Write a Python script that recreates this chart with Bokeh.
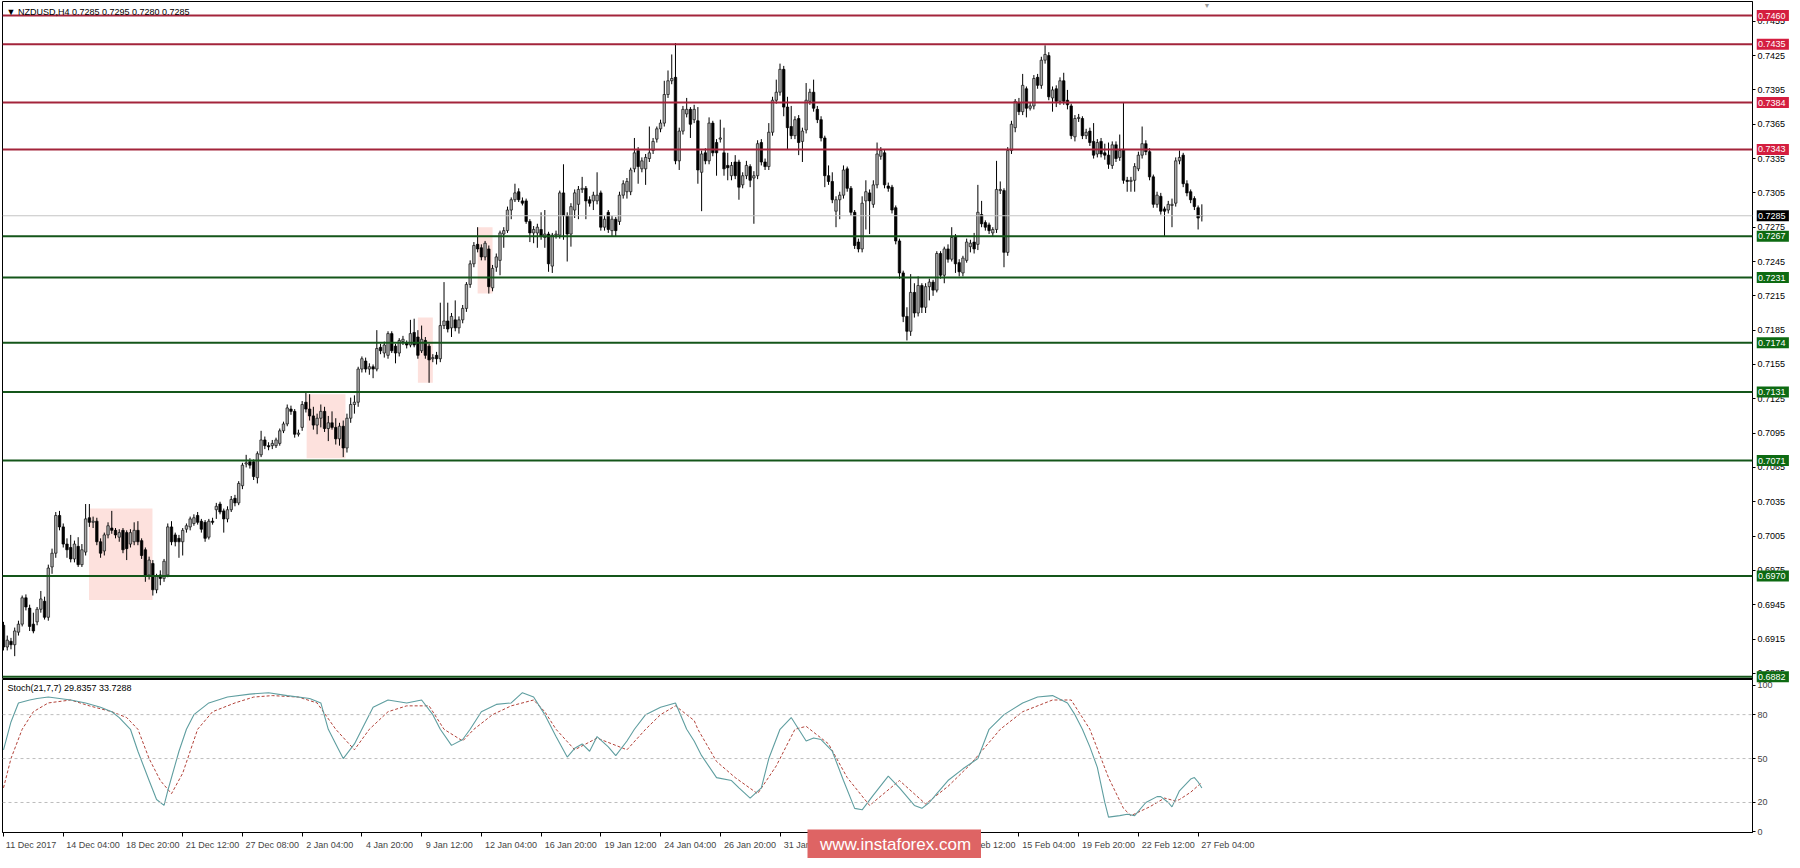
import numpy as np
from bokeh.plotting import figure
from bokeh.layouts import column
from bokeh.models import (Range1d, FixedTicker, Span, Label, CustomJSTickFormatter,
                          NumeralTickFormatter, ColumnDataSource)
from bokeh.core.properties import value
from bokeh.embed import file_html
from bokeh.resources import INLINE

# ---------------- data (prices in pips: value / 10000) ----------------
symbol = "NZDUSD,H4"
first_bar = 3

opens = [
    6927, 6908, 6913, 6910, 6921, 6928, 6951, 6942, 6928, 6930,
    6941, 6948, 6934, 6978, 6990, 7023, 7013, 6998, 6995, 6985,
    6996, 6980, 6991, 7021, 7017, 7018, 7000, 6992, 7006, 7012,
    7010, 7004, 7010, 7008, 6998, 7000, 7010, 7001, 6993, 6971,
    6981, 6958, 6971, 6968, 6971, 7013, 7006, 7003, 7000, 7011,
    7013, 7016, 7023, 7018, 7017, 7004, 7018, 7028, 7033, 7027,
    7020, 7028, 7038, 7034, 7049, 7068, 7070, 7070, 7056, 7076,
    7089, 7084, 7084, 7084, 7086, 7097, 7103, 7116, 7114, 7094,
    7100, 7122, 7116, 7110, 7102, 7108, 7114, 7099, 7104, 7100,
    7090, 7101, 7082, 7108, 7120, 7122, 7151, 7158, 7151, 7153,
    7151, 7170, 7165, 7163, 7182, 7171, 7165, 7175, 7174, 7172,
    7183, 7179, 7167, 7176, 7171, 7160, 7163, 7160, 7189, 7193,
    7187, 7194, 7187, 7194, 7204, 7225, 7243, 7260, 7257, 7249,
    7256, 7222, 7240, 7246, 7269, 7272, 7290, 7299, 7306, 7298,
    7298, 7280, 7270, 7270, 7273, 7266, 7269, 7241, 7268, 7268,
    7305, 7285, 7269, 7290, 7295, 7308, 7309, 7299, 7298, 7298,
    7305, 7275, 7288, 7272, 7282, 7280, 7303, 7306, 7306, 7326,
    7342, 7326, 7326, 7335, 7342, 7352, 7361, 7366, 7391, 7403,
    7406, 7333, 7359, 7374, 7378, 7369, 7368, 7323, 7340, 7333,
    7366, 7349, 7352, 7340, 7329, 7320, 7332, 7332, 7312, 7320,
    7328, 7318, 7320, 7349, 7332, 7328, 7358, 7386, 7393, 7413,
    7380, 7363, 7355, 7370, 7350, 7360, 7385, 7393, 7378, 7369,
    7353, 7320, 7315, 7289, 7299, 7303, 7326, 7309, 7288, 7262,
    7256, 7298, 7305, 7295, 7312, 7337, 7340, 7311, 7310, 7292,
    7263, 7235, 7197, 7184, 7218, 7200, 7224, 7205, 7223, 7227,
    7220, 7252, 7233, 7256, 7247, 7267, 7244, 7235, 7246, 7258,
    7262, 7260, 7286, 7279, 7277, 7270, 7273, 7307, 7307, 7253,
    7342, 7362, 7384, 7376, 7396, 7379, 7381, 7406, 7399, 7421,
    7425, 7388, 7396, 7385, 7403, 7386, 7381, 7354, 7370, 7370,
    7355, 7359, 7350, 7339, 7350, 7340, 7338, 7329, 7347, 7336,
    7343, 7316, 7315, 7316, 7326, 7338, 7348, 7341, 7319, 7295,
    7302, 7291, 7290, 7294, 7296, 7333, 7338, 7313, 7306, 7300,
    7292, 7285,
]
highs = [
    6930, 6918, 6916, 6925, 6931, 6953, 6954, 6945, 6938, 6943,
    6957, 6952, 6980, 6994, 7026, 7027, 7016, 7003, 7006, 7001,
    7004, 6998, 7033, 7033, 7022, 7021, 7003, 7008, 7017, 7027,
    7012, 7011, 7012, 7010, 7011, 7017, 7018, 7003, 6995, 6987,
    6984, 6972, 6975, 6985, 7016, 7018, 7008, 7006, 7012, 7016,
    7022, 7024, 7026, 7020, 7019, 7020, 7021, 7034, 7035, 7029,
    7031, 7040, 7041, 7053, 7069, 7076, 7073, 7072, 7079, 7097,
    7092, 7087, 7089, 7091, 7099, 7105, 7120, 7119, 7116, 7098,
    7123, 7131, 7129, 7118, 7112, 7120, 7118, 7110, 7114, 7108,
    7104, 7106, 7112, 7126, 7128, 7153, 7162, 7161, 7156, 7155,
    7185, 7173, 7175, 7184, 7184, 7173, 7178, 7180, 7176, 7194,
    7195, 7185, 7189, 7179, 7173, 7164, 7166, 7209, 7227, 7209,
    7200, 7211, 7197, 7207, 7227, 7246, 7262, 7275, 7260, 7263,
    7259, 7242, 7252, 7272, 7275, 7293, 7301, 7313, 7309, 7301,
    7300, 7282, 7276, 7278, 7288, 7290, 7271, 7270, 7272, 7307,
    7330, 7288, 7296, 7308, 7311, 7319, 7311, 7302, 7306, 7323,
    7307, 7285, 7290, 7285, 7284, 7306, 7316, 7318, 7327, 7353,
    7345, 7336, 7339, 7363, 7353, 7363, 7369, 7403, 7412, 7426,
    7436, 7362, 7381, 7388, 7380, 7382, 7380, 7342, 7344, 7371,
    7368, 7352, 7369, 7362, 7340, 7332, 7338, 7334, 7323, 7333,
    7330, 7324, 7351, 7352, 7335, 7366, 7389, 7404, 7418, 7416,
    7389, 7381, 7372, 7373, 7362, 7401, 7396, 7404, 7381, 7372,
    7355, 7329, 7323, 7302, 7306, 7329, 7328, 7311, 7290, 7265,
    7302, 7316, 7308, 7316, 7349, 7345, 7343, 7314, 7312, 7294,
    7265, 7237, 7205, 7234, 7226, 7232, 7226, 7226, 7230, 7229,
    7254, 7254, 7258, 7260, 7275, 7269, 7247, 7250, 7265, 7264,
    7270, 7312, 7298, 7281, 7279, 7275, 7333, 7315, 7309, 7345,
    7368, 7387, 7388, 7409, 7398, 7384, 7408, 7409, 7424, 7434,
    7428, 7398, 7399, 7406, 7410, 7395, 7383, 7373, 7374, 7372,
    7361, 7362, 7366, 7352, 7353, 7348, 7349, 7350, 7350, 7356,
    7384, 7319, 7319, 7331, 7341, 7363, 7351, 7344, 7321, 7306,
    7305, 7293, 7298, 7300, 7336, 7342, 7340, 7316, 7308, 7302,
    7294, 7295,
]
lows = [
    6905, 6905, 6906, 6900, 6918, 6926, 6940, 6922, 6920, 6927,
    6938, 6932, 6931, 6972, 6986, 7010, 6995, 6986, 6982, 6982,
    6978, 6978, 6988, 7013, 7012, 6997, 6986, 6988, 7003, 7007,
    7003, 7000, 6990, 6984, 6995, 6997, 6997, 6985, 6965, 6967,
    6953, 6955, 6962, 6965, 6969, 6997, 6996, 6986, 6988, 7008,
    7010, 7014, 7015, 7008, 7000, 7002, 7015, 7020, 7024, 7008,
    7017, 7026, 7031, 7032, 7046, 7065, 7064, 7054, 7051, 7074,
    7081, 7080, 7081, 7082, 7084, 7095, 7101, 7111, 7091, 7092,
    7097, 7113, 7106, 7098, 7094, 7100, 7096, 7088, 7098, 7085,
    7084, 7074, 7078, 7104, 7112, 7118, 7148, 7148, 7146, 7143,
    7149, 7164, 7161, 7160, 7165, 7156, 7162, 7172, 7169, 7170,
    7170, 7160, 7165, 7160, 7139, 7157, 7155, 7157, 7186, 7183,
    7179, 7184, 7182, 7191, 7201, 7222, 7240, 7253, 7246, 7246,
    7217, 7219, 7236, 7233, 7257, 7270, 7282, 7297, 7297, 7294,
    7278, 7262, 7261, 7257, 7264, 7257, 7236, 7235, 7265, 7265,
    7264, 7245, 7258, 7283, 7282, 7305, 7282, 7293, 7290, 7295,
    7272, 7272, 7270, 7267, 7267, 7277, 7300, 7300, 7303, 7323,
    7313, 7323, 7312, 7332, 7339, 7349, 7358, 7363, 7388, 7400,
    7330, 7325, 7356, 7371, 7353, 7366, 7313, 7289, 7330, 7330,
    7337, 7320, 7349, 7320, 7316, 7316, 7317, 7299, 7309, 7317,
    7310, 7278, 7317, 7329, 7325, 7325, 7355, 7383, 7390, 7372,
    7343, 7352, 7352, 7338, 7332, 7357, 7382, 7376, 7366, 7350,
    7310, 7312, 7296, 7275, 7282, 7300, 7306, 7285, 7256, 7253,
    7253, 7273, 7269, 7292, 7309, 7334, 7309, 7306, 7287, 7260,
    7230, 7192, 7176, 7180, 7196, 7197, 7200, 7200, 7211, 7215,
    7218, 7230, 7226, 7244, 7245, 7235, 7232, 7232, 7244, 7253,
    7252, 7255, 7275, 7272, 7269, 7267, 7270, 7304, 7240, 7250,
    7339, 7358, 7373, 7373, 7371, 7377, 7378, 7396, 7396, 7418,
    7386, 7376, 7380, 7382, 7382, 7378, 7352, 7350, 7367, 7352,
    7352, 7346, 7335, 7336, 7336, 7334, 7326, 7326, 7332, 7333,
    7313, 7306, 7306, 7306, 7324, 7335, 7338, 7316, 7292, 7292,
    7286, 7267, 7287, 7275, 7293, 7330, 7310, 7302, 7296, 7290,
    7273, 7280,
]
closes = [
    6908, 6914, 6910, 6922, 6928, 6951, 6943, 6926, 6922, 6941,
    6950, 6934, 6977, 6990, 7023, 7013, 6998, 6993, 6985, 6998,
    6980, 6993, 7020, 7017, 7018, 7000, 6990, 7006, 7014, 7010,
    7006, 7008, 6993, 6994, 7008, 7010, 7000, 6988, 6971, 6984,
    6958, 6970, 6968, 6983, 7013, 7000, 7000, 7000, 7010, 7014,
    7020, 7021, 7017, 7011, 7003, 7018, 7017, 7031, 7026, 7020,
    7028, 7037, 7034, 7051, 7067, 7069, 7067, 7057, 7077, 7089,
    7084, 7083, 7086, 7089, 7097, 7103, 7117, 7114, 7094, 7095,
    7120, 7116, 7110, 7102, 7108, 7114, 7099, 7104, 7100, 7090,
    7101, 7082, 7108, 7120, 7122, 7151, 7160, 7151, 7153, 7151,
    7169, 7167, 7172, 7182, 7167, 7165, 7176, 7177, 7172, 7182,
    7172, 7163, 7177, 7163, 7159, 7161, 7160, 7189, 7193, 7186,
    7197, 7187, 7194, 7204, 7225, 7243, 7259, 7256, 7249, 7261,
    7223, 7239, 7249, 7270, 7272, 7290, 7299, 7305, 7299, 7296,
    7280, 7270, 7273, 7275, 7267, 7269, 7243, 7268, 7269, 7305,
    7285, 7269, 7293, 7305, 7308, 7309, 7298, 7296, 7303, 7303,
    7275, 7282, 7273, 7282, 7272, 7303, 7313, 7315, 7325, 7340,
    7328, 7333, 7336, 7340, 7350, 7361, 7366, 7391, 7403, 7405,
    7333, 7359, 7378, 7378, 7365, 7378, 7325, 7339, 7333, 7366,
    7340, 7340, 7353, 7326, 7327, 7329, 7320, 7310, 7320, 7329,
    7316, 7320, 7348, 7332, 7328, 7358, 7386, 7393, 7413, 7380,
    7362, 7355, 7369, 7349, 7359, 7386, 7393, 7379, 7369, 7353,
    7320, 7315, 7299, 7299, 7303, 7325, 7309, 7288, 7259, 7256,
    7296, 7306, 7298, 7312, 7339, 7342, 7312, 7309, 7290, 7263,
    7235, 7197, 7184, 7218, 7200, 7224, 7205, 7223, 7227, 7220,
    7252, 7233, 7256, 7247, 7266, 7243, 7236, 7248, 7262, 7261,
    7256, 7288, 7278, 7275, 7272, 7273, 7308, 7308, 7253, 7342,
    7365, 7385, 7376, 7399, 7379, 7381, 7405, 7399, 7421, 7426,
    7389, 7395, 7385, 7403, 7385, 7382, 7355, 7370, 7371, 7355,
    7358, 7349, 7338, 7349, 7339, 7338, 7330, 7347, 7335, 7342,
    7316, 7315, 7316, 7328, 7338, 7348, 7341, 7319, 7295, 7303,
    7289, 7289, 7295, 7295, 7333, 7336, 7313, 7305, 7299, 7293,
    7283, 7285,
]

resistance_levels = [0.7460, 0.7435, 0.7384, 0.7343]
support_levels = [0.7267, 0.7231, 0.7174, 0.7131, 0.7071, 0.6970, 0.6882]

price_ticks = [0.7455, 0.7425, 0.7395, 0.7365, 0.7335, 0.7305, 0.7275, 0.7245,
               0.7215, 0.7185, 0.7155, 0.7125, 0.7095, 0.7065, 0.7035, 0.7005,
               0.6975, 0.6945, 0.6915, 0.6885]

time_tick_bars = [3, 19, 35, 51, 67, 83, 99, 115, 131, 147, 163, 179, 195, 211,
                  227, 243, 259, 275, 291, 307, 323]
time_tick_labels = ["11 Dec 2017", "14 Dec 04:00", "18 Dec 20:00", "21 Dec 12:00",
                    "27 Dec 08:00", "2 Jan 04:00", "4 Jan 20:00", "9 Jan 12:00",
                    "12 Jan 04:00", "16 Jan 20:00", "19 Jan 12:00", "24 Jan 04:00",
                    "26 Jan 20:00", "31 Jan 12:00", "5 Feb 04:00", "7 Feb 20:00",
                    "12 Feb 12:00", "15 Feb 04:00", "19 Feb 20:00", "22 Feb 12:00",
                    "27 Feb 04:00"]

# supply / demand zones (bar index edges, price edges)
zone_left = [25.9, 84.2, 114.0, 130.0]
zone_right = [42.9, 94.6, 118.0, 134.0]
zone_top = [0.7029, 0.7129, 0.7196, 0.7275]
zone_bottom = [0.6949, 0.7073, 0.7139, 0.7217]

# Stochastic(21,7,7)
stoch_k_bars = [3, 5, 7, 10, 12, 15, 18, 21, 25, 29, 32, 34, 37, 39, 42, 44, 46, 47, 50, 52,
                54, 58, 63, 69, 74, 79, 85, 88, 90, 92, 94, 97, 99, 102, 106, 111, 115, 118, 120, 123,
                126, 128, 131, 135, 139, 142, 145, 148, 151, 154, 156, 158, 160, 162, 165, 167, 170, 172, 175, 179,
                183, 186, 188, 190, 194, 198, 200, 203, 206, 208, 211, 214, 216, 218, 220, 222, 225, 228, 231, 233,
                236, 240, 243, 247, 249, 251, 253, 256, 260, 264, 267, 271, 276, 280, 284, 288, 290, 292, 294, 296,
                298, 299, 302, 304, 306, 309, 312, 313, 315, 316, 318, 321, 322, 323, 324]
stoch_k = [56, 75, 88, 90, 91, 92, 91, 90, 88, 85, 82, 78, 70, 55, 35, 22, 18, 28, 55, 70,
           80, 88, 92, 94, 95, 93, 91, 88, 70, 60, 50, 60, 70, 85, 90, 88, 90, 80, 70, 59,
           63, 70, 82, 87, 88, 95, 92, 80, 65, 51, 57, 60, 55, 65, 58, 52, 62, 70, 80, 85,
           88, 70, 62, 52, 37, 35, 30, 23, 30, 50, 70, 78, 70, 62, 64, 63, 55, 35, 16, 15,
           25, 38, 30, 18, 16, 20, 26, 35, 43, 50, 70, 80, 88, 92, 93, 88, 80, 70, 58, 44,
           20, 10, 11, 12, 11, 20, 24, 24, 20, 17, 28, 36, 37, 34, 29.8357]
stoch_d_bars = [3, 5, 8, 11, 15, 21, 26, 32, 36, 39, 42, 45, 48, 51, 55, 59, 65, 70, 75, 82,
                87, 92, 97, 101, 106, 111, 117, 121, 126, 129, 134, 139, 145, 148, 151, 156, 162, 170, 175, 179,
                183, 188, 189, 194, 199, 205, 210, 215, 218, 219, 224, 229, 235, 243, 250, 256, 262, 270, 276, 284,
                289, 294, 299, 303, 305, 310, 314, 317, 318, 321, 324]
stoch_d = [30, 50, 70, 82, 88, 90, 86, 82, 78, 70, 50, 35, 26, 40, 70, 82, 88, 92, 93, 92,
           88, 70, 56, 70, 82, 86, 86, 70, 62, 70, 80, 86, 90, 82, 70, 56, 64, 56, 70, 80,
           86, 76, 70, 48, 37, 26, 45, 70, 72, 70, 60, 37, 18, 35, 19, 31, 46, 70, 82, 90,
           90, 70, 37, 16, 11, 17, 23, 21, 22, 27, 33.7288]
stoch_levels = [20, 50, 80]
stoch_ticks = [0, 20, 50, 80, 100]

# ---------------- layout constants ----------------
FONT = "Liberation Sans"
FRAME_W = 1750
RIGHT_W = 32
TAG_W = 36
MAIN_H = 678
STOCH_H = 153
X_START, X_END = 2.73, 471.5
Y0, Y1 = 0.68796, 0.74723
RED = "#d41e40"
RED_LINE = "#a3243b"
GREEN = "#0d6a12"
GREEN_LINE = "#14561a"

n = len(closes)
bars = np.arange(first_bar, first_bar + n)
o = np.array(opens) / 10000.0
h = np.array(highs) / 10000.0
l = np.array(lows) / 10000.0
c = np.array(closes) / 10000.0
up = c >= o

x_range = Range1d(X_START, X_END)

p = figure(frame_width=FRAME_W, frame_height=MAIN_H, x_range=x_range,
           y_range=Range1d(Y0, Y1), output_backend="svg",
           toolbar_location=None, x_axis_location=None, y_axis_location="right",
           min_border_left=2, min_border_right=RIGHT_W, min_border_top=1, min_border_bottom=0)
p.grid.visible = False
p.outline_line_color = "black"
p.outline_line_width = 1

# zones
p.quad(left=zone_left, right=zone_right, top=zone_top, bottom=zone_bottom,
       fill_color="#fde1dd", line_color=None)

# levels
for lev in resistance_levels:
    p.add_layout(Span(location=lev, dimension="width", line_color=RED_LINE, line_width=2))
for lev in support_levels:
    p.add_layout(Span(location=lev, dimension="width", line_color=GREEN_LINE, line_width=2))
p.add_layout(Span(location=c[-1], dimension="width", line_color="#c4c4c4", line_width=1))

# candles
p.segment(x0=bars, y0=h, x1=bars, y1=l, line_color="black", line_width=1)
p.vbar(x=bars[up], width=0.66, top=c[up], bottom=o[up],
       fill_color="#a9a9a9", line_color="#111111", line_width=0.7)
p.vbar(x=bars[~up], width=0.66, top=o[~up], bottom=c[~up],
       fill_color="black", line_color="black", line_width=0.7)

# price axis
ya = p.yaxis[0]
ya.ticker = FixedTicker(ticks=price_ticks)
ya.formatter = NumeralTickFormatter(format="0.0000")
ya.major_label_text_font = FONT
ya.major_label_text_font_size = "9px"
ya.major_label_text_color = "black"
ya.major_tick_in = 0
ya.major_tick_out = 3
ya.minor_tick_out = 0
ya.minor_tick_in = 0
ya.major_label_standoff = 2
ya.axis_line_color = "black"

header = f"\u25BC {symbol}  {o[-1]:.4f} {h[-1]:.4f} {l[-1]:.4f} {c[-1]:.4f}"
p.add_layout(Label(x=4, y=MAIN_H - 10, x_units="screen", y_units="screen", text=header,
                   text_font=FONT, text_font_size="9px", text_color="black",
                   text_baseline="middle"))
p.add_layout(Label(x=float(bars[-1]) + 1.4, y=MAIN_H - 4, x_units="data", y_units="screen",
                   text="\u25BC", text_font_size="7px", text_color="#9a9a9a",
                   text_align="center", text_baseline="middle"))

# ---------------- stochastic panel ----------------
s = figure(frame_width=FRAME_W, frame_height=STOCH_H, x_range=x_range,
           y_range=Range1d(-0.5, 104), output_backend="svg", toolbar_location=None,
           x_axis_location="below", y_axis_location="right",
           min_border_left=2, min_border_right=RIGHT_W, min_border_top=0, min_border_bottom=0)
s.grid.visible = False
s.outline_line_color = "black"
for lev in stoch_levels:
    s.add_layout(Span(location=lev, dimension="width", line_color="#bdbdbd",
                      line_width=1, line_dash="3 3"))
s.line(stoch_d_bars, stoch_d, line_color="#b2433a", line_width=1, line_dash="3 2")
s.line(stoch_k_bars, stoch_k, line_color="#5f9ea0", line_width=1.1)

sy = s.yaxis[0]
sy.ticker = FixedTicker(ticks=stoch_ticks)
sy.major_label_text_font = FONT
sy.major_label_text_font_size = "9px"
sy.major_tick_in = 0
sy.major_tick_out = 3
sy.minor_tick_out = 0
sy.major_label_standoff = 2
sy.axis_line_color = "black"

px_per_bar = FRAME_W / (X_END - X_START)
centers = [b + (len(t) * 4.46 / 2 + 3) / px_per_bar for b, t in zip(time_tick_bars, time_tick_labels)]
sx = s.xaxis[0]
sx.ticker = FixedTicker(ticks=centers, minor_ticks=time_tick_bars)
sx.formatter = CustomJSTickFormatter(args=dict(pos=centers, labs=time_tick_labels), code="""
    let best = -1, bd = 1e9;
    for (let i = 0; i < pos.length; i++) {
        const d = Math.abs(pos[i] - tick);
        if (d < bd) { bd = d; best = i; }
    }
    return bd < 0.5 ? labs[best] : "";
""")
sx.major_tick_in = 0
sx.major_tick_out = 0
sx.minor_tick_in = 0
sx.minor_tick_out = 4
sx.minor_tick_line_color = "black"
sx.major_label_standoff = 3
sx.major_label_text_font = FONT
sx.major_label_text_font_size = "9px"
sx.axis_line_color = "black"

s.add_layout(Label(x=5, y=STOCH_H - 8, x_units="screen", y_units="screen",
                   text=f"Stoch(21,7,7) {stoch_k[-1]:.4f} {stoch_d[-1]:.4f}",
                   text_font=FONT, text_font_size="9px", text_color="black",
                   text_baseline="middle"))


# ---------------- overlays (price-level tags, separator, watermark) ----------------
def overlay(w, hgt, left, top, y_range, bg=None):
    f = figure(frame_width=w, frame_height=hgt, x_range=Range1d(0, 1), y_range=y_range,
               output_backend="svg", toolbar_location=None,
               x_axis_location=None, y_axis_location=None,
               min_border_left=0, min_border_right=0, min_border_top=0, min_border_bottom=0,
               styles={"position": "absolute", "left": f"{left}px", "top": f"{top}px",
                       "z-index": "10"})
    f.grid.visible = False
    f.outline_line_color = None
    f.border_fill_alpha = 0
    if bg is None:
        f.background_fill_alpha = 0
    else:
        f.background_fill_color = bg
    return f


PAD = 8
units_per_px = (Y1 - Y0) / MAIN_H
tags = overlay(TAG_W, MAIN_H + 2 * PAD, FRAME_W + 4, 1 - PAD,
               Range1d(Y0 - PAD * units_per_px, Y1 + PAD * units_per_px))
tag_vals = resistance_levels + support_levels + [float(c[-1])]
tag_cols = [RED] * len(resistance_levels) + [GREEN] * len(support_levels) + ["black"]
tag_src = ColumnDataSource(dict(y=tag_vals, col=tag_cols,
                                txt=[f"{v:.4f}" for v in tag_vals],
                                x=[0.45] * len(tag_vals), tx=[0.04] * len(tag_vals)))
tags.rect(x="x", y="y", width=0.9, height=11, height_units="screen",
          fill_color="col", line_color=None, source=tag_src)
tags.text(x="tx", y="y", text="txt", text_color="white", text_font=value(FONT),
          text_font_size="9px", text_baseline="middle", source=tag_src)

sep = overlay(FRAME_W + 3, 3, 0, MAIN_H, Range1d(0, 1), bg="#8a8a8a")

wm = overlay(176, 29, 805, 1 + MAIN_H + STOCH_H - 3, Range1d(0, 1), bg="#de6464")
wm.text(x=[0.5], y=[0.5], text=["www.instaforex.com"], text_color="white",
        text_font=value(FONT), text_font_size="17px", text_align="center",
        text_baseline="middle")

layout = column(p, s, tags, sep, wm, spacing=0, styles={"position": "relative"})
open("out.html", "w").write(file_html(layout, INLINE))
